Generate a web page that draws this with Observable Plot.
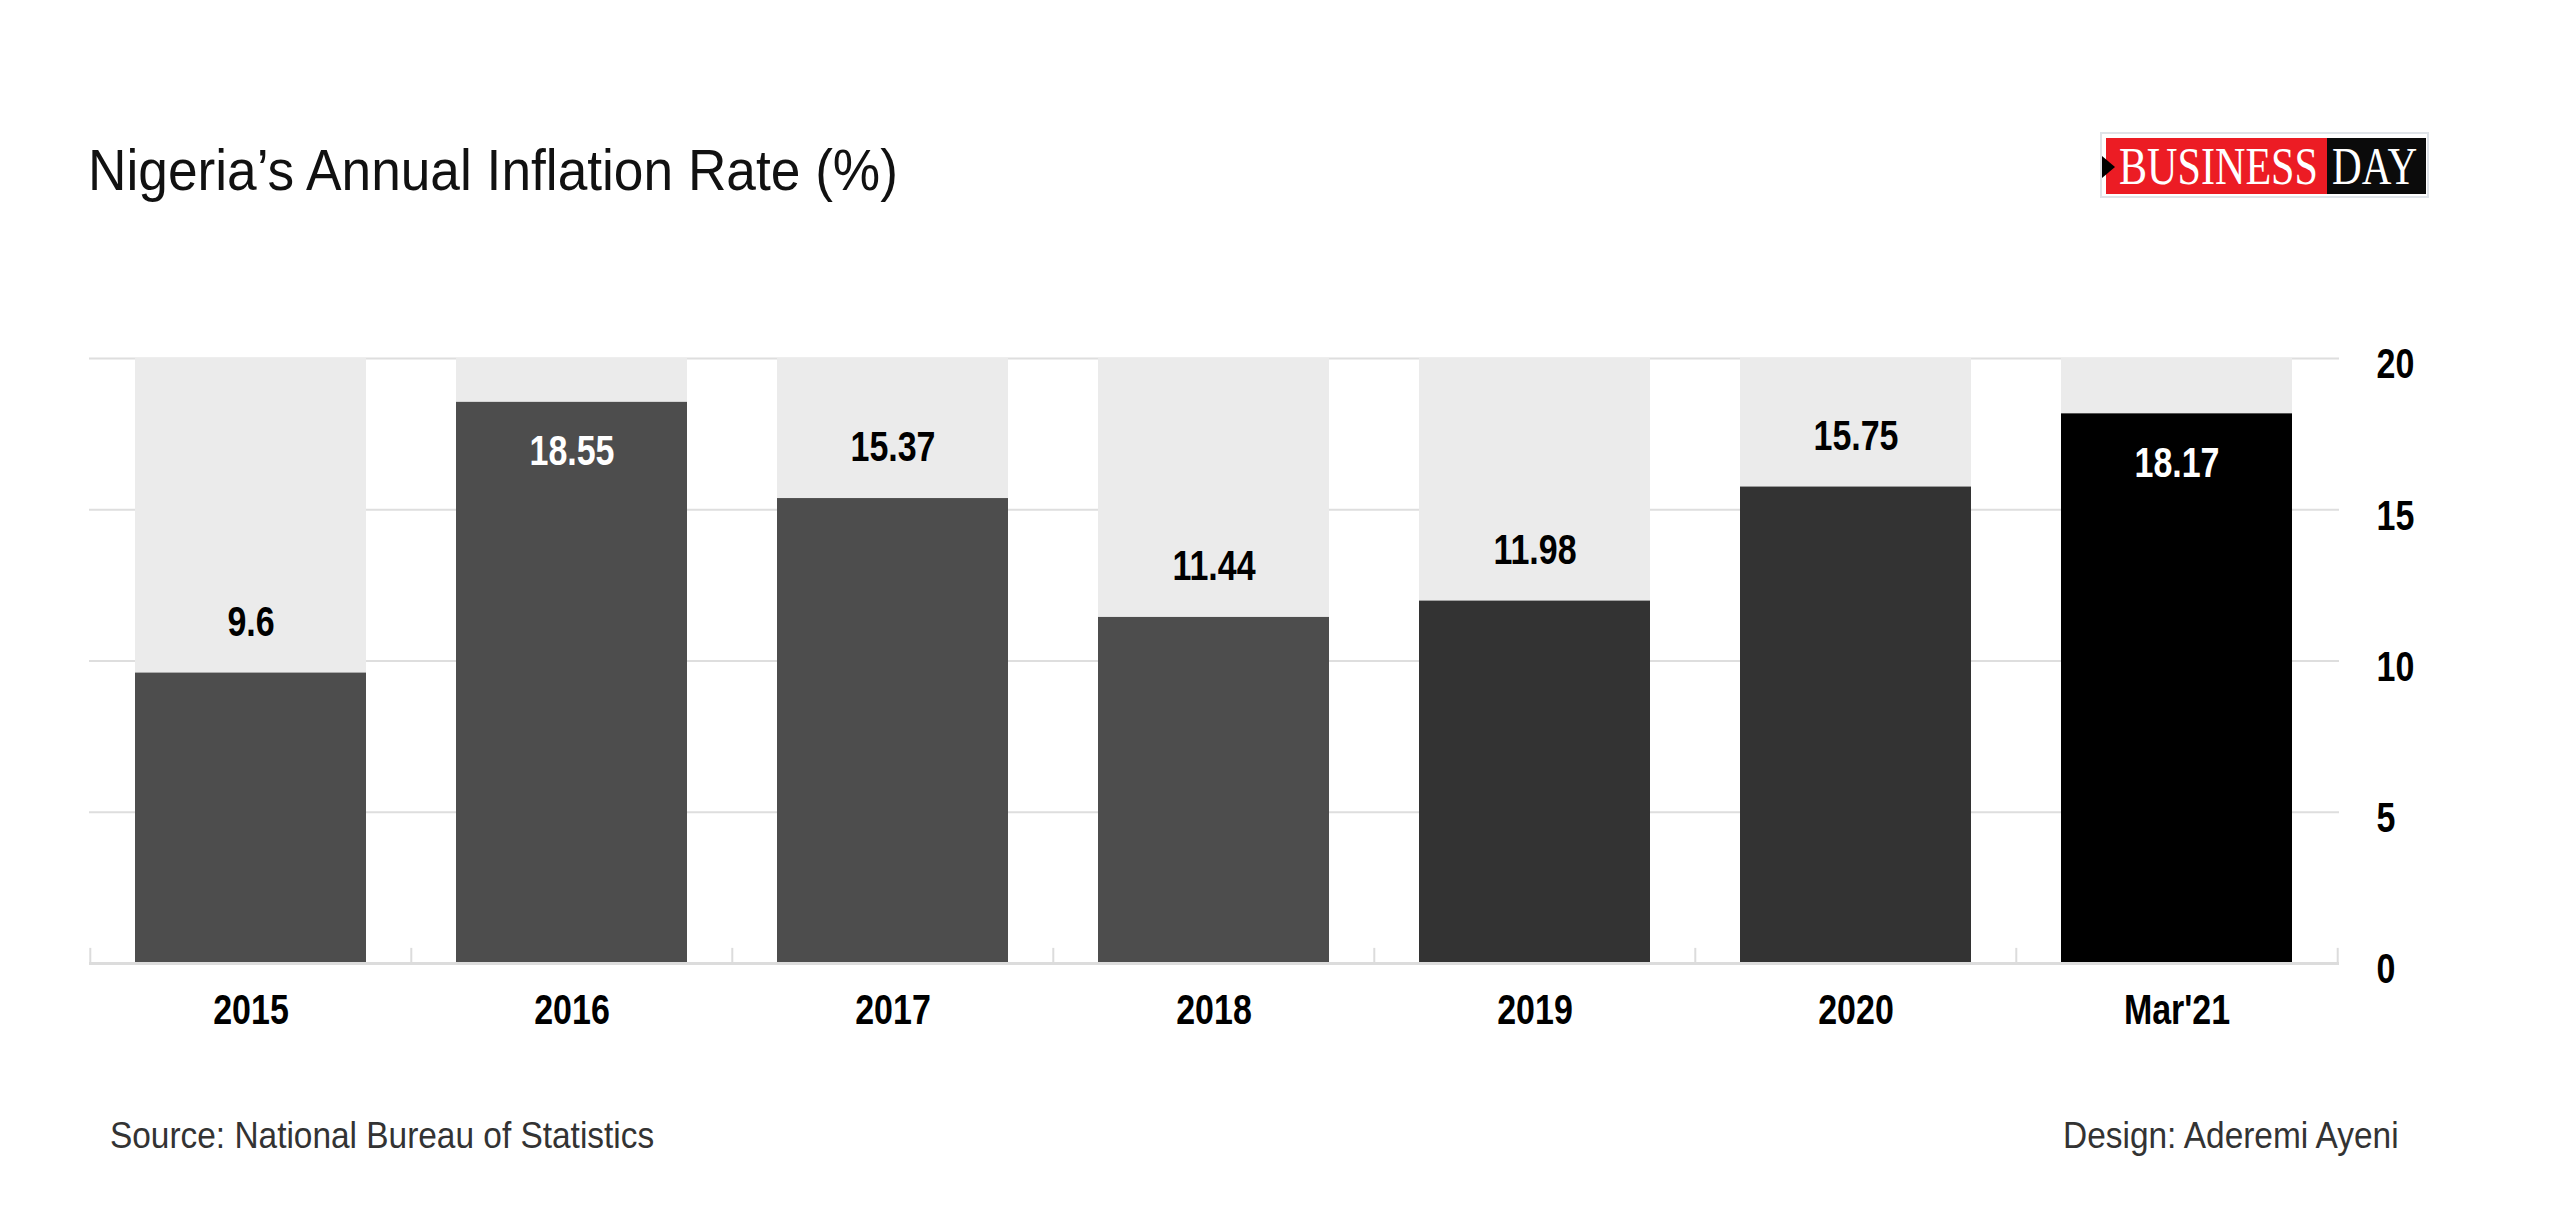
<!DOCTYPE html>
<html>
<head>
<meta charset="utf-8">
<script src="https://cdn.jsdelivr.net/npm/d3@7"></script>
<script src="https://cdn.jsdelivr.net/npm/@observablehq/plot@0.6"></script>
<style>
  html, body { margin: 0; padding: 0; background: #fff; }
  body { width: 2560px; height: 1229px; position: relative; overflow: hidden;
         font-family: 'Liberation Sans', Arial, sans-serif; }
  #title { position: absolute; left: 88px; top: 141px; font-size: 58px; line-height: 58px; color: #111; white-space: nowrap;
           transform: scaleX(0.918); transform-origin: left center; }
  #logo { position: absolute; left: 2100px; top: 132px; width: 325px; height: 62px; border: 2px solid #dfe3e8; background: #fff; }
  #logo .red { position: absolute; left: 4px; top: 4px; width: 221px; height: 56px; background: #ec1c24; overflow: hidden; }
  #logo .blk { position: absolute; left: 225px; top: 4px; width: 99px; height: 56px; background: #0b0b0b; overflow: hidden; }
  #logo .txt { position: absolute; top: 1px; font-family: 'Liberation Serif', 'DejaVu Serif', serif; font-size: 52px; line-height: 56px; color: #fff; white-space: nowrap; transform-origin: left center; }
  #logo .tri { position: absolute; left: 0px; top: 22px; width: 0; height: 0; border-top: 11px solid transparent; border-bottom: 11px solid transparent; border-left: 13px solid #000; }
  #chart { position: absolute; left: 0; top: 300px; }
  .foot { position: absolute; top: 1117px; font-size: 37px; line-height: 37px; color: #333; white-space: nowrap; transform: scaleX(0.903); }
</style>
</head>
<body>
<div id="title">Nigeria’s Annual Inflation Rate (%)</div>
<div id="logo">
  <div class="red"><span class="txt" style="left:13px; transform: scaleX(0.81);">BUSINESS</span></div>
  <div class="blk"><span class="txt" style="left:5px; transform: scaleX(0.79);">DAY</span></div>
  <div class="tri"></div>
</div>
<div id="chart"></div>
<div class="foot" style="left:110px; transform-origin: left center;">Source: National Bureau of Statistics</div>
<div class="foot" style="right:161px; transform-origin: right center;">Design: Aderemi Ayeni</div>
<script>
// ---- data ----
const categories = ["2015", "2016", "2017", "2018", "2019", "2020", "Mar'21"];
const rates = [9.6, 18.55, 15.37, 11.44, 11.98, 15.75, 18.17];
const yTicks = [0, 5, 10, 15, 20];
const yMax = 20;

const data = categories.map((cat, i) => ({cat, rate: rates[i]}));

// styling rules (not data)
const shadeOf = (d) => d.cat === "Mar'21" ? "#000000" : (d.cat === "2019" || d.cat === "2020") ? "#333333" : "#4d4d4d";
const inside = (d) => d.rate > 18;

const W = 2560, H = 780, ML = 89, MR = 221, MT = 58, MB = 117;
const step = (W - ML - MR) / categories.length;
const numFont = "'Liberation Sans', Arial, sans-serif";
const FS = 43;

const chart = Plot.plot({
  width: W, height: H,
  marginLeft: ML, marginRight: MR, marginTop: MT, marginBottom: MB,
  style: {fontFamily: numFont, background: "transparent", overflow: "visible"},
  x: {domain: categories, paddingInner: 0.28, paddingOuter: 0.14, align: 0.5, label: null},
  y: {domain: [0, yMax], label: null},
  marks: [
    Plot.gridY(yTicks, {stroke: "#dedede", strokeOpacity: 1, strokeWidth: 2}),
    Plot.barY(data, {x: "cat", y1: 0, y2: () => yMax, fill: "#ebebeb"}),
    Plot.barY(data, {x: "cat", y1: 0, y2: "rate", fill: shadeOf}),
    Plot.ruleY([0], {stroke: "#dcdcdc", strokeWidth: 3}),
    Plot.ruleX(categories, {x: d => d, dx: -step / 2, y1: 0, y2: 0.5, stroke: "#dcdcdc", strokeWidth: 2}),
    Plot.ruleX(categories.slice(-1), {x: d => d, dx: step / 2, y1: 0, y2: 0.5, stroke: "#dcdcdc", strokeWidth: 2}),
    Plot.text(data.filter(d => !inside(d)), {x: "cat", y: "rate", text: d => String(d.rate), dy: -51,
      fill: "#000", fontSize: FS, fontWeight: "bold", fontFamily: numFont}),
    Plot.text(data.filter(inside), {x: "cat", y: "rate", text: d => String(d.rate), dy: 49,
      fill: "#fff", fontSize: FS, fontWeight: "bold", fontFamily: numFont}),
    Plot.axisX({tickSize: 0, tickPadding: 30, fontSize: FS, fontWeight: "bold", fill: "#000", label: null}),
    Plot.axisY(yTicks, {anchor: "right", tickSize: 0, tickPadding: 37, dy: 6, fontSize: FS, fontWeight: "bold", fill: "#000", label: null})
  ]
});

// condense the chart's text horizontally (narrow typeface look), scaling about each label's anchor
const K = 0.79;
chart.querySelectorAll("text").forEach(t => {
  let tr = t.getAttribute("transform") || "";
  const x = t.getAttribute("x");
  if (x !== null && !/em$/.test(x)) { tr += ` translate(${x},0)`; t.removeAttribute("x"); }
  t.setAttribute("transform", (tr + ` scale(${K},1)`).trim());
});
document.getElementById("chart").appendChild(chart);
</script>
</body>
</html>
